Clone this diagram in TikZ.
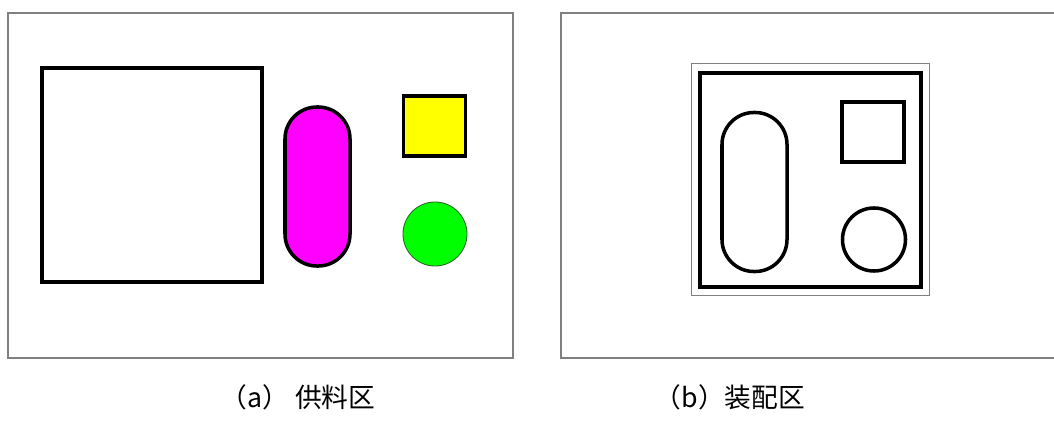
\documentclass[tikz,border=0pt]{standalone}
\usepackage{fontspec}
\newfontfamily\cjkfont{Noto Sans CJK SC}
\usetikzlibrary{positioning}
\definecolor{cFrameDraw}{RGB}{128, 128, 128}
\definecolor{cSlotFill}{RGB}{255, 0, 255}
\definecolor{cBlockFill}{RGB}{255, 255, 0}
\definecolor{cDiscFill}{RGB}{0, 255, 0}
\definecolor{cDiscDraw}{RGB}{40, 100, 40}
\tikzset{
    font=\cjkfont,
    % --- 区域 ---
    zoneFrame/.style={
        rectangle, draw=cFrameDraw, line width=1.3pt,
        inner sep=0pt, fill=white
    },
    %
    % --- 零件 ---
    part/.style={
        draw=black, line width=2.5pt, inner sep=0pt, fill=white
    },
    slotPart/.style={
        part, rectangle, rounded corners=0.8cm,
        minimum width=1.625cm, minimum height=3.975cm
    },
    blockPart/.style={
        part, rectangle, minimum width=1.56cm, minimum height=1.5cm
    },
    discPart/.style={
        part, circle, minimum size=1.6cm
    },
    %
    % --- 标题 ---
    caption/.style={
        font=\cjkfont\fontsize{19pt}{22pt}\selectfont, inner sep=0pt
    }
}

\begin{document}
\begin{tikzpicture}[x=0.025cm, y=-0.025cm]

	\useasboundingbox (0,0) rectangle (1054,421);

	% =========================================
	% 1. 供料区
	% =========================================

	\node [zoneFrame, minimum width=12.625cm, minimum height=8.625cm] (feedZone) at (260.5,185.5) {};

	\node [part, rectangle, minimum width=5.5cm, minimum height=5.35cm] (feedTray) at (152,175) {};
	\node [slotPart, fill=cSlotFill] (feedSlot) at (317.5,186.5) {};
	\node [blockPart, fill=cBlockFill] (feedBlock) at (434.5,126) {};
	\node [discPart, fill=cDiscFill, draw=cDiscDraw, line width=0.6pt] (feedDisc) at (435,234) {};

	% =========================================
	% 2. 装配区
	% =========================================

	\draw [cFrameDraw, line width=1.3pt] (1060,13) -- (561,13) -- (561,358) -- (1060,358);

	\node [zoneFrame, line width=0.7pt, minimum width=5.925cm, minimum height=5.775cm] (fixture) at (810.5,179.5) {};
	\node [part, rectangle, minimum width=5.525cm, minimum height=5.35cm] (fixtureBase) at (810.5,180) {};

	\node [slotPart] (fitSlot) at (754.5,192) {};
	\node [blockPart] (fitBlock) at (873,132) {};
	\node [discPart, minimum size=1.575cm] (fitDisc) at (874,239.5) {};

	% =========================================
	% 3. 标题
	% =========================================

	\node [caption] (labelFeed) at (298,397) {（a） 供料区};
	\node [caption] (labelFit) at (730,397) {（b）装配区};

\end{tikzpicture}
\end{document}
